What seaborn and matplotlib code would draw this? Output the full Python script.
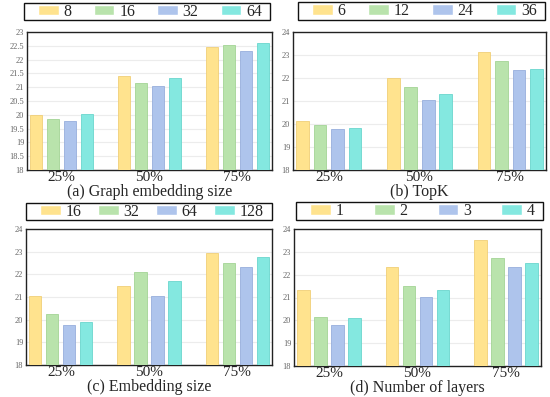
import numpy as np
import pandas as pd
import matplotlib
matplotlib.use('Agg')
import matplotlib.pyplot as plt
from matplotlib.patches import Rectangle
import seaborn as sns

# x categories shared by all panels
ratios = ['25%', '50%', '75%']

# (a) Graph embedding size
a_labels = ['8', '16', '32', '64']
a_vals = [[20.00, 19.85, 19.77, 20.02],
          [21.40, 21.15, 21.03, 21.32],
          [22.45, 22.53, 22.32, 22.60]]

# (b) TopK
b_labels = ['6', '12', '24', '36']
b_vals = [[20.12, 19.95, 19.78, 19.83],
          [22.00, 21.60, 21.05, 21.32],
          [23.13, 22.75, 22.33, 22.40]]

# (c) Embedding size
c_labels = ['16', '32', '64', '128']
c_vals = [[21.05, 20.23, 19.78, 19.88],
          [21.50, 22.10, 21.03, 21.72],
          [22.93, 22.50, 22.32, 22.77]]

# (d) Number of layers
d_labels = ['1', '2', '3', '4']
d_vals = [[21.33, 20.13, 19.78, 20.12],
          [22.33, 21.50, 21.03, 21.33],
          [23.53, 22.73, 22.32, 22.53]]

titles = ['(a) Graph embedding size', '(b) TopK', '(c) Embedding size', '(d) Number of layers']

colors = ['#FFE38E', '#B9E3AC', '#AEC4EC', '#84E8E0']
edges = ['#F0CF78', '#A3D495', '#97AEDC', '#6AD6CD']

sns.set_style('white')
plt.rcParams['font.family'] = ['Liberation Serif', 'DejaVu Serif']

fig = plt.figure(figsize=(5.5, 3.97), dpi=100)
W, H = 550, 397
# axes boxes in pixels: left, top, right, bottom
boxes = [(27, 32, 272, 170), (293, 32, 546, 170),
         (26, 229, 272, 365), (294, 229, 541, 366)]
# legend frames in pixels: left, top, right, bottom
leg_boxes = [(24, 3, 270, 20), (298, 2, 545, 20),
             (26, 203, 272, 220), (296, 202, 543, 220)]
panels = [(a_labels, a_vals, (18, 23), np.arange(18, 23.01, 0.5)),
          (b_labels, b_vals, (18, 24), np.arange(18, 24.01, 1)),
          (c_labels, c_vals, (18, 24), np.arange(18, 24.01, 1)),
          (d_labels, d_vals, (18, 24), np.arange(18, 24.01, 1))]


def fx(px):
    return px / W


def fy(py):
    return 1 - py / H


for (labels, vals, ylim, yticks), box, lbox, title in zip(panels, boxes, leg_boxes, titles):
    l, t, r, b = box
    ax = fig.add_axes([fx(l), fy(b), (r - l) / W, (b - t) / H])
    rows = []
    for i, ratio in enumerate(ratios):
        for j, lab in enumerate(labels):
            rows.append({'ratio': ratio, 'setting': lab, 'value': vals[i][j]})
    df = pd.DataFrame(rows)
    sns.barplot(data=df, x='ratio', y='value', hue='setting', order=ratios,
                hue_order=labels, palette=colors, saturation=1, width=0.77, gap=0.28,
                ax=ax, zorder=3)
    for cont, ec in zip(ax.containers, edges):
        for p in cont:
            p.set_edgecolor(ec)
            p.set_linewidth(0.6)
    ax.set_ylim(*ylim)
    ax.set_yticks(yticks)
    ax.set_yticklabels([f'{v:g}' for v in yticks], fontsize=6, color='#666666')
    ax.set_xlim(-0.395, 2.395)
    ax.tick_params(axis='both', length=0, pad=2)
    ax.tick_params(axis='x', labelsize=11, pad=1)
    ax.grid(axis='y', color='#ececec', linewidth=0.8, zorder=0)
    ax.set_axisbelow(True)
    for s in ax.spines.values():
        s.set_color('#222222')
        s.set_linewidth(1.0)
    ax.set_ylabel('')
    ax.set_xlabel(title, fontsize=11.5, labelpad=0)

    # legend frame drawn separately, entries spread inside it
    ll, lt, lr, lb = lbox
    fig.patches.append(Rectangle((fx(ll), fy(lb)), (lr - ll) / W, (lb - lt) / H,
                                 transform=fig.transFigure, fill=False,
                                 edgecolor='#111111', linewidth=1.0))
    handles, hl = ax.get_legend_handles_labels()
    ax.legend(handles, hl, loc='center left',
              bbox_to_anchor=(fx(ll + 14), fy(lb), (lr - ll - 22) / W, (lb - lt) / H),
              bbox_transform=fig.transFigure, mode='expand', ncol=4, fontsize=11.5,
              frameon=False, handlelength=1.3, handleheight=0.65,
              handletextpad=0.3, borderpad=0, borderaxespad=0)

fig.savefig('out.png', dpi=100)
